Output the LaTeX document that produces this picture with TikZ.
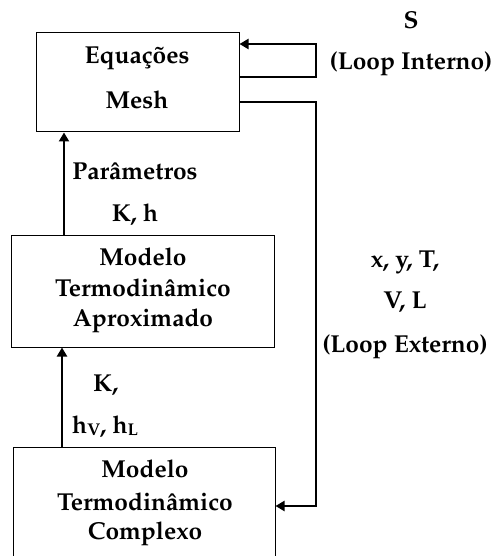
\documentclass[tikz,border=0pt]{standalone}
\usepackage[T1]{fontenc}
\usepackage{mathpazo}
\usetikzlibrary{arrows.meta}
\tikzset{
  box/.style={draw, line width=1pt, rectangle, inner sep=0pt},
  lbl/.style={font=\fontsize{24.5}{28}\selectfont\bfseries, inner sep=0pt, anchor=center},
  arr/.style={line width=2.4pt, -{Triangle[length=9pt,width=10pt]}},
  ln/.style={line width=2.4pt}
}
\newcommand{\subv}[1]{\raisebox{-2pt}{\fontsize{17}{17}\selectfont #1}}
\begin{document}
\begin{tikzpicture}[x=1pt,y=-1pt]
\useasboundingbox (0,0) rectangle (496,556);
% boxes
\node[box, minimum width=203pt, minimum height=99pt] (b1) at (137.5,82.5) {};
\node[box, minimum width=263pt, minimum height=112pt] (b2) at (142.5,291) {};
\node[box, minimum width=262pt, minimum height=120pt] (b3) at (144,507) {};
% box texts
\node[lbl] (t11) at (137,58) {Equa\c{c}\~oes};
\node[lbl] (t12) at (137,100) {Mesh};
\node[lbl] (t21) at (143,257) {Modelo};
\node[lbl] (t22) at (143,288) {Termodin\^amico};
\node[lbl] (t23) at (143,321) {Aproximado};
\node[lbl] (t31) at (145,469) {Modelo};
\node[lbl] (t32) at (145,502) {Termodin\^amico};
\node[lbl] (t33) at (145,534) {Complexo};
% side labels
\node[lbl] (s1) at (411,20) {S};
\node[lbl] (s2) at (411,64) {(Loop Interno)};
\node[lbl] (p1) at (135,171) {Par\^ametros};
\node[lbl] (p2) at (135,215) {K, h};
\node[lbl] (e1) at (405,262) {x, y, T,};
\node[lbl] (e2) at (405,302) {V, L};
\node[lbl] (e3) at (405,347) {(Loop Externo)};
\node[lbl, anchor=west] (k1) at (93,385) {K,};
\node[lbl, anchor=west] (k2) at (72,427) {h\subv{V}, h\subv{L}};
% coordinates
\coordinate (ca) at (64,0);
\coordinate (cb) at (62,0);
\coordinate (cr) at (316,0);
\coordinate (yi) at (0,44);
\coordinate (yo) at (0,77);
\coordinate (ye) at (0,102);
\coordinate (yb) at (0,506);
% arrows
\draw[arr] (ca |- b2.north) -- (ca |- b1.south);
\draw[arr] (cb |- b3.north) -- (cb |- b2.south);
\draw[arr] (b1.east |- yo) -- (cr |- yo) -- (cr |- yi) -- (b1.east |- yi);
\draw[arr] (b1.east |- ye) -- (cr |- ye) -- (cr |- yb) -- (b3.east |- yb);
\end{tikzpicture}
\end{document}
